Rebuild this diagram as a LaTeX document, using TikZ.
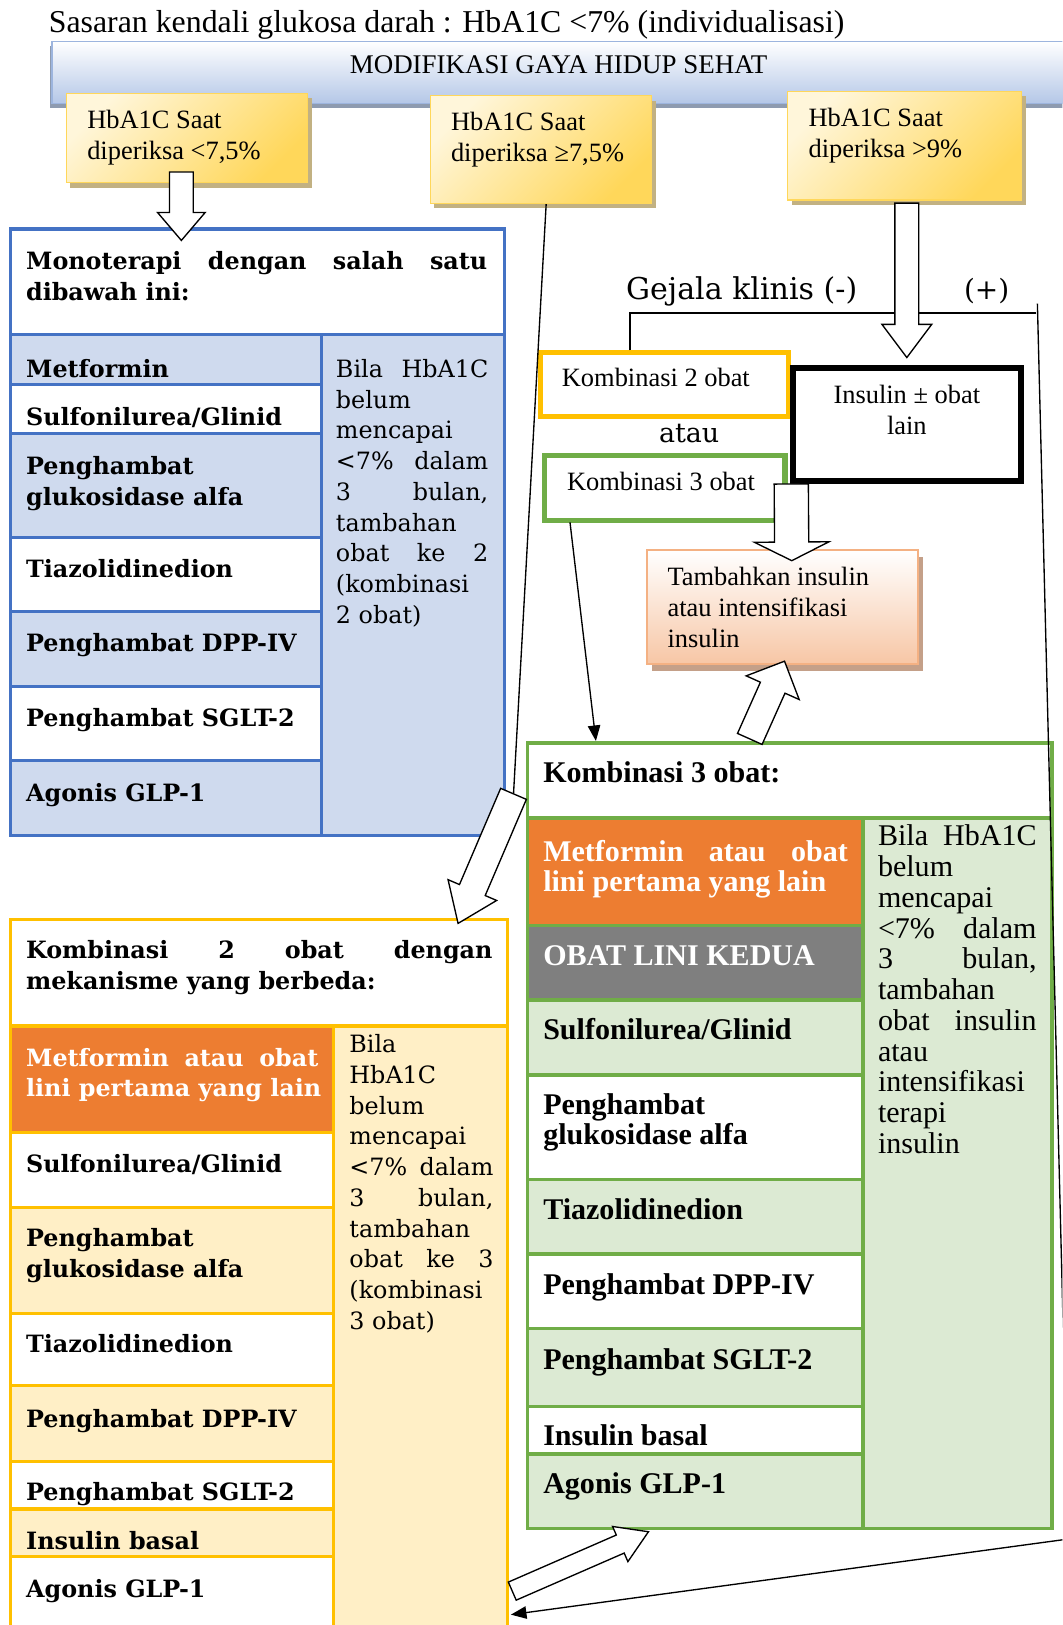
\documentclass[tikz,border=0pt]{standalone}
\usepackage{fontspec}
\setmainfont{Liberation Serif}
\newfontfamily\bookfont{DejaVu Serif}
\usetikzlibrary{positioning, arrows.meta, calc, fit, shadows}

\definecolor{dmBlue}{HTML}{4472C4}
\definecolor{dmBlueFill}{HTML}{CFDAEE}
\definecolor{dmGold}{HTML}{FFC000}
\definecolor{dmGoldFill}{HTML}{FFEFC6}
\definecolor{dmGreen}{HTML}{70AD47}
\definecolor{dmGreenFill}{HTML}{DCEAD3}
\definecolor{dmOrange}{HTML}{ED7D31}
\definecolor{dmGray}{HTML}{7F7F7F}
\definecolor{dmSky}{HTML}{B4C7E7}
\definecolor{dmSkyLine}{HTML}{9DB5DE}
\definecolor{dmSkyShade}{HTML}{8E9BB0}
\definecolor{dmCream}{HTML}{FFF6DA}
\definecolor{dmYellow}{HTML}{FFD75A}
\definecolor{dmKhaki}{HTML}{C2B182}
\definecolor{dmPeach}{HTML}{F7C6A5}
\definecolor{dmPeachLine}{HTML}{F4B183}
\definecolor{dmRust}{HTML}{C4A089}

% white block arrow: tail, tip, half shaft, half head, head length
\newcommand{\blockarrow}[5]{%
  \coordinate (bahead) at ($(#2)!#5!(#1)$);
  \draw[blockarr] ($(#1)!#3!90:(#2)$) -- ($(bahead)!#3!90:(#2)$)
    -- ($(bahead)!#4!90:(#2)$) -- (#2) -- ($(bahead)!#4!-90:(#2)$)
    -- ($(bahead)!#3!-90:(#2)$) -- ($(#1)!#3!-90:(#2)$) -- cycle;
}

\begin{document}
\begin{tikzpicture}[
  x=1pt, y=-1pt,
  titletxt/.style={font=\fontsize{30.7}{36}\selectfont, inner sep=0, anchor=base west},
  plaintxt/.style={font=\fontsize{25.5}{30}\selectfont, inner sep=0, anchor=base west, align=left},
  booktxt/.style={font=\bookfont\fontsize{29}{34}\selectfont, inner sep=0, anchor=base west},
  cellbk/.style={font=\bookfont\bfseries\fontsize{23}{29.5}\selectfont, inner sep=0, anchor=base west, align=left},
  notebk/.style={font=\bookfont\fontsize{23}{29.7}\selectfont, inner sep=0, anchor=base west, align=left},
  celltm/.style={font=\bfseries\fontsize{29}{29.5}\selectfont, inner sep=0, anchor=base west, align=left},
  notetm/.style={font=\fontsize{29}{29.7}\selectfont, inner sep=0, anchor=base west, align=left},
  lifebar/.style={inner sep=0, draw=dmSkyLine, line width=1.5pt, top color=white, bottom color=dmSky,
    drop shadow={shadow xshift=-2pt, shadow yshift=-4pt, fill=dmSkyShade, opacity=1}},
  hbabox/.style={inner sep=0, draw=dmYellow, line width=1pt, top color=dmCream, bottom color=dmYellow,
    shading angle=45, drop shadow={shadow xshift=4pt, shadow yshift=-5pt, fill=dmKhaki, opacity=1}},
  pickbox/.style={inner sep=0, fill=white, line width=5pt},
  addbox/.style={inner sep=0, draw=dmPeachLine, line width=2pt, top color=white, bottom color=dmPeach,
    drop shadow={shadow xshift=5pt, shadow yshift=-6pt, fill=dmRust, opacity=1}},
  tabBlue/.style={draw=dmBlue, line width=3pt},
  tabGold/.style={draw=dmGold, line width=3pt},
  tabGreen/.style={draw=dmGreen, line width=3.5pt},
  thinln/.style={draw=black, line width=1.3pt},
  thinarr/.style={thinln, -{Triangle[length=15pt, width=12pt]}},
  blockarr/.style={draw=black, fill=white, line width=1.3pt, line join=miter},
]
\useasboundingbox (0,0) rectangle (1025,1568);
\clip (0,0) rectangle (1025,1568);

% Target and lifestyle bar
% (multi-line texts sit on the baseline of their last line)
\node[lifebar, fit={(50,40) (1045,100)}] (life) {};
\node[plaintxt, font=\fontsize{26}{30}\selectfont, anchor=base] (lifet) at (539,71) {MODIFIKASI GAYA HIDUP SEHAT};
\node[titletxt] (target) at (47,31) {Sasaran kendali glukosa darah : HbA1C <7\% (individualisasi)};

% HbA1C boxes
\node[hbabox, fit={(64,90) (297,176)}] (hbA) {};
\node[hbabox, fit={(415,92) (629,196)}] (hbB) {};
\node[hbabox, fit={(760,88) (986,193)}] (hbC) {};
\node[plaintxt] (hbAt) at (84,154) {HbA1C Saat\\diperiksa <7,5\%};
\node[plaintxt] (hbBt) at (435,156) {HbA1C Saat\\diperiksa ≥7,5\%};
\node[plaintxt] (hbCt) at (780,152) {HbA1C Saat\\diperiksa >9\%};

% Monoterapi table
\filldraw[tabBlue, fill=white] (10,221) rectangle (487,323);
\filldraw[tabBlue, fill=dmBlueFill] (310,323) rectangle (487,806);
\foreach \ya/\yb/\cf in {323/371/dmBlueFill, 371/418/white, 418/519/dmBlueFill,
    519/590/white, 590/662/dmBlueFill, 662/734/white, 734/806/dmBlueFill}
  \filldraw[tabBlue, fill=\cf] (10,\ya) rectangle (310,\yb);
\draw[tabBlue] (10,221) rectangle (487,806);
\node[cellbk] (monoh) at (25,289.5) {\makebox[445pt][s]{Monoterapi dengan salah satu}\\dibawah ini:};
\node[cellbk] (mono1) at (25,364) {Metformin};
\node[cellbk] (mono2) at (25,411) {Sulfonilurea/Glinid};
\node[cellbk] (mono3) at (25,487.5) {Penghambat\\glukosidase alfa};
\node[cellbk] (mono4) at (25,557) {Tiazolidinedion};
\node[cellbk] (mono5) at (25,629) {Penghambat DPP-IV};
\node[cellbk] (mono6) at (25,701) {Penghambat SGLT-2};
\node[cellbk] (mono7) at (25,773) {Agonis GLP-1};
\node[notebk] (monon) at (324,601.6) {\makebox[147pt][s]{Bila HbA1C}\\belum\\mencapai\\
  \makebox[147pt][s]{<7\% dalam}\\\makebox[147pt][s]{3 bulan,}\\tambahan\\
  \makebox[147pt][s]{obat ke 2}\\(kombinasi\\2 obat)};

% Kombinasi 2 obat table
\filldraw[tabGold, fill=white] (10,887) rectangle (490,990);
\filldraw[tabGold, fill=dmGoldFill] (322,990) rectangle (490,1600);
\foreach \ya/\yb/\cf in {990/1093/dmOrange, 1093/1165/white, 1165/1267/dmGoldFill,
    1267/1337/white, 1337/1410/dmGoldFill, 1410/1456/white, 1456/1502/dmGoldFill, 1502/1600/white}
  \filldraw[tabGold, fill=\cf] (10,\ya) rectangle (322,\yb);
\draw[tabGold] (10,887) rectangle (490,1600);
\node[cellbk] (duah) at (25,954.5) {\makebox[450pt][s]{Kombinasi 2 obat dengan}\\mekanisme yang berbeda:};
\node[cellbk, text=white] (dua1) at (25,1058.5) {\makebox[282pt][s]{Metformin atau obat}\\lini pertama yang lain};
\node[cellbk] (dua2) at (25,1131) {Sulfonilurea/Glinid};
\node[cellbk] (dua3) at (25,1232.5) {Penghambat\\glukosidase alfa};
\node[cellbk] (dua4) at (25,1305) {Tiazolidinedion};
\node[cellbk] (dua5) at (25,1377) {Penghambat DPP-IV};
\node[cellbk] (dua6) at (25,1448) {Penghambat SGLT-2};
\node[cellbk] (dua7) at (25,1495) {Insulin basal};
\node[cellbk] (dua8) at (25,1541) {Agonis GLP-1};
\node[notebk, font=\bookfont\fontsize{23}{29.6}\selectfont] (duan) at (337,1282.4) {Bila\\HbA1C\\belum\\mencapai\\
  \makebox[139pt][s]{<7\% dalam}\\\makebox[139pt][s]{3 bulan,}\\tambahan\\
  \makebox[139pt][s]{obat ke 3}\\(kombinasi\\3 obat)};

% Kombinasi 3 obat table
\filldraw[tabGreen, fill=white] (509,717) rectangle (1015,789);
\filldraw[tabGreen, fill=dmGreenFill] (833,789) rectangle (1015,1475);
\foreach \ya/\yb/\cf in {789/893/dmOrange, 893/965/dmGray, 965/1037/dmGreenFill,
    1037/1138/white, 1138/1210/dmGreenFill, 1210/1282/white, 1282/1357/dmGreenFill,
    1357/1403/white, 1403/1475/dmGreenFill}
  \filldraw[tabGreen, fill=\cf] (509,\ya) rectangle (833,\yb);
\draw[tabGreen] (509,717) rectangle (1015,1475);
\node[celltm] (tigah) at (524,755) {Kombinasi 3 obat:};
\node[celltm, text=white] (tiga1) at (524,860.5) {\makebox[294pt][s]{Metformin atau obat}\\lini pertama yang lain};
\node[celltm, text=white] (tiga2) at (524,932) {OBAT LINI KEDUA};
\node[celltm] (tiga3) at (524,1003) {Sulfonilurea/Glinid};
\node[celltm] (tiga4) at (524,1104.5) {Penghambat\\glukosidase alfa};
\node[celltm] (tiga5) at (524,1177) {Tiazolidinedion};
\node[celltm] (tiga6) at (524,1249) {Penghambat DPP-IV};
\node[celltm] (tiga7) at (524,1321) {Penghambat SGLT-2};
\node[celltm] (tiga8) at (524,1395) {Insulin basal};
\node[celltm] (tiga9) at (524,1441) {Agonis GLP-1};
\node[notetm] (tigan) at (847,1113) {\makebox[153pt][s]{Bila HbA1C}\\belum\\mencapai\\
  \makebox[153pt][s]{<7\% dalam}\\\makebox[153pt][s]{3 bulan,}\\tambahan\\
  \makebox[153pt][s]{obat insulin}\\atau\\intensifikasi\\terapi\\insulin};

% Choice boxes
\node[pickbox, draw=dmGold, fit={(521.5,340.5) (760.5,401.5)}] (k2s) {};
\node[pickbox, draw=dmGreen, fit={(525.5,439.5) (757.5,502.5)}] (k3s) {};
\node[pickbox, draw=black, line width=6pt, fit={(765,355) (985,464)}] (ins) {};
\node[addbox, fit={(624,531) (886,641)}] (add) {};
\node[plaintxt] (k2st) at (542,373) {Kombinasi 2 obat};
\node[booktxt, font=\bookfont\fontsize{26}{30}\selectfont, anchor=base] (atau) at (665,427) {atau};
\node[plaintxt] (k3st) at (547,473) {Kombinasi 3 obat};
\node[plaintxt, anchor=base, align=center] (inst) at (875,419) {Insulin ± obat\\lain};
\node[plaintxt] (addt) at (644,625) {Tambahkan insulin\\atau intensifikasi\\insulin};
\node[booktxt] (gejala) at (604,289) {Gejala klinis (-)};
\node[booktxt, font=\bookfont\fontsize{27}{32}\selectfont] (plus) at (930,289) {(+)};

% Connector points
\coordinate (bOut) at (527,197);
\coordinate (k2In) at (495.5,766);
\coordinate (k2Tip) at (442,891);
\coordinate (gejL) at (608,302);
\coordinate (gejR) at (1000,302);
\coordinate (plusTop) at (1001,293);
\coordinate (rightBend) at (1031,1485);
\coordinate (k2End) at (493,1558);
\coordinate (k3sOut) at (550,504);
\coordinate (k3In) at (575,715);
\coordinate (monoTail) at (175,166);
\coordinate (monoTip) at (175,232);
\coordinate (insTail) at (875,196);
\coordinate (insTip) at (875,345);
\coordinate (addTail) at (763.5,467);
\coordinate (addTip) at (764,541);
\coordinate (upTail) at (723.5,713);
\coordinate (upTip) at (757,638);
\coordinate (backTail) at (494.3,1535.3);
\coordinate (backTip) at (625.7,1478);

% Thin connectors
\draw[thinln] (bOut) -- (k2In);
\draw[thinln] (k2s.north -| gejL) -- (gejL) -- (gejR);
\draw[thinarr] (plusTop) -- (rightBend) -- (k2End);
\draw[thinarr] (k3sOut) -- (k3In);

% Block arrows
\blockarrow{monoTail}{monoTip}{11.5pt}{23pt}{27pt}
\blockarrow{insTail}{insTip}{11.5pt}{24pt}{32pt}
\blockarrow{addTail}{addTip}{16.5pt}{36pt}{18pt}
\blockarrow{upTail}{upTip}{13pt}{28pt}{28pt}
\blockarrow{k2In}{k2Tip}{13.5pt}{25.5pt}{35pt}
\blockarrow{backTail}{backTip}{9.5pt}{18.5pt}{29.7pt}

\end{tikzpicture}
\end{document}
